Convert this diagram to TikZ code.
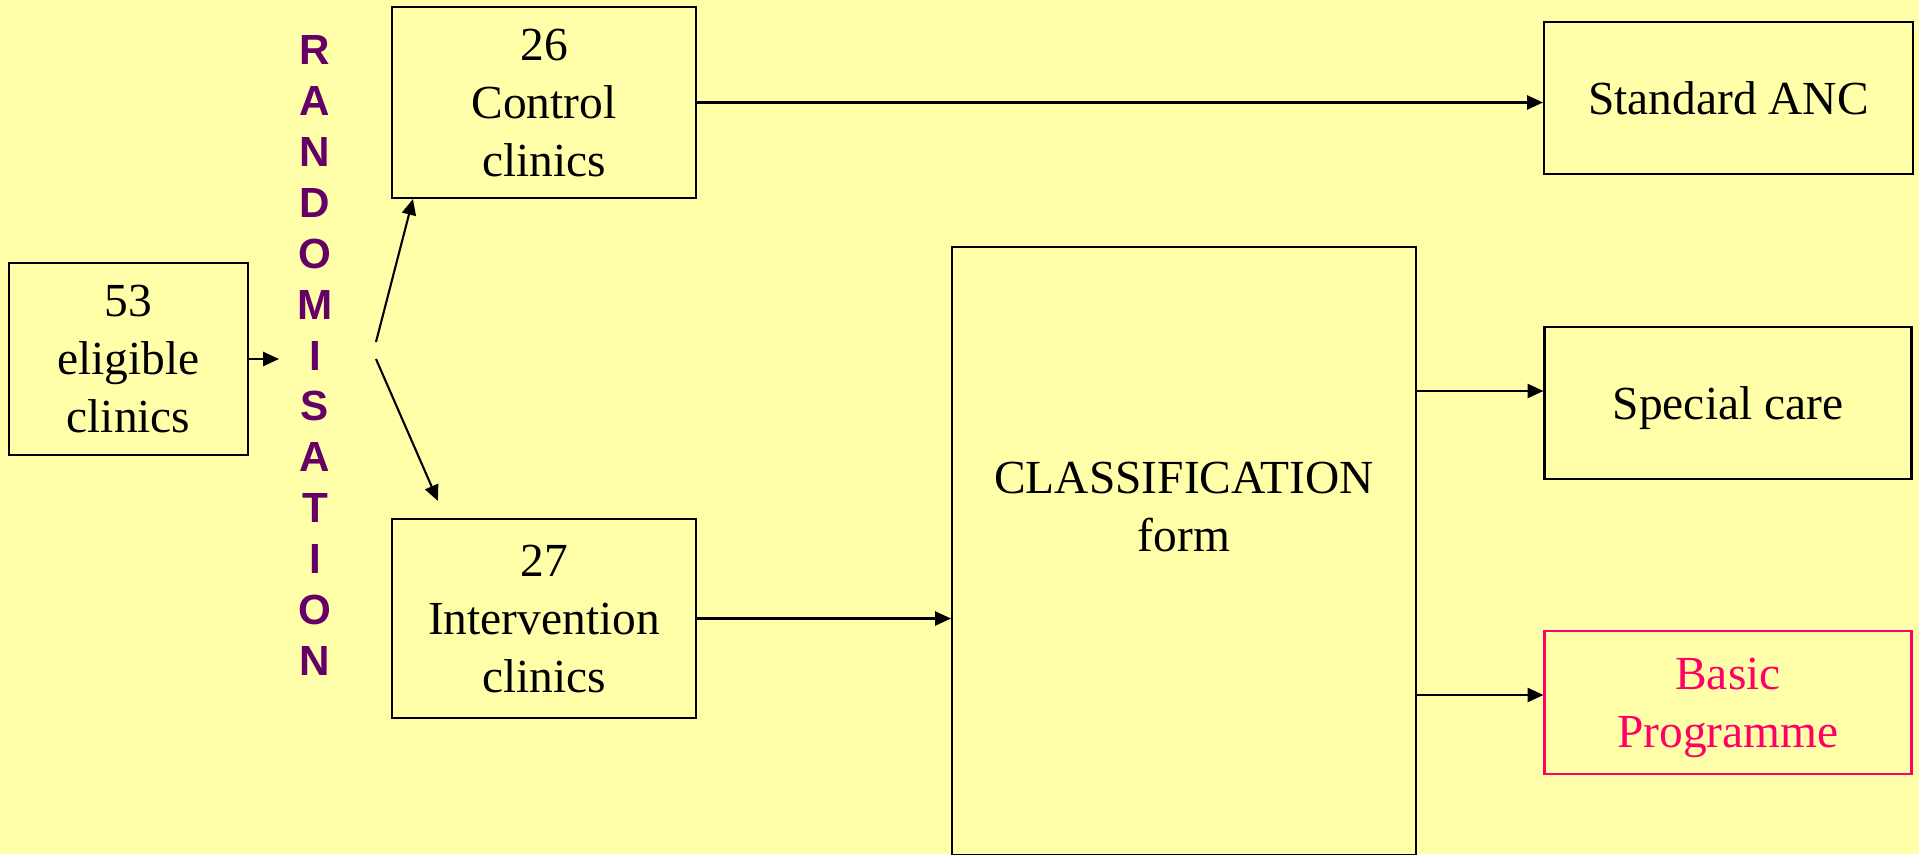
\documentclass[tikz,border=0pt]{standalone}
\usepackage{fontspec}
\setmainfont{Liberation Serif}
\newfontfamily\randfont{Liberation Sans}
\usetikzlibrary{arrows.meta}
\definecolor{slidebg}{HTML}{FFFFAA}
\definecolor{randpurple}{HTML}{660066}
\definecolor{basicpink}{HTML}{FF0066}

\begin{document}
\begin{tikzpicture}[
    box/.style={draw, line width=1.2pt, align=center, inner sep=0pt, font=\fontsize{27}{33}\selectfont},
    arr/.style={-{Triangle[length=9pt,width=8pt]}, black, line width=1.2pt}
  ]
    \fill[slidebg] (0,0) rectangle (38.38,-17.08);
    \useasboundingbox (0,0) rectangle (38.38,-17.08);

    \node[box, minimum width=4.78cm, minimum height=3.84cm, text depth=-4pt] (elig) at (2.57,-7.18) {53\\eligible\\clinics};
    \node[box, minimum width=6.08cm, minimum height=3.82cm, text depth=-6pt] (ctrl) at (10.88,-2.05) {26\\Control\\clinics};
    \node[box, minimum width=6.08cm, minimum height=3.98cm, text depth=-4pt] (intv) at (10.88,-12.37) {27\\Intervention\\clinics};
    \node[box, minimum width=9.28cm, minimum height=12.16cm] (cls) at (23.68,-11.02) {};
    \node[font=\fontsize{27}{33}\selectfont, align=center] (clstext) at ([yshift=0.88cm]cls.center) {CLASSIFICATION\\form};
    \node[box, minimum width=7.38cm, minimum height=3.04cm] (anc) at (34.57,-1.96) {Standard ANC};
    \node[box, minimum width=7.34cm, minimum height=3.04cm, text depth=-2pt] (spc) at (34.56,-8.06) {Special care};
    \node[box, draw=basicpink, text=basicpink, minimum width=7.34cm, minimum height=2.86cm, text depth=-2pt] (bas) at (34.56,-14.05) {Basic\\Programme};

    \node[text=randpurple, font=\randfont\bfseries\fontsize{24}{29}\selectfont, align=center, inner sep=0pt] (rand) at (6.30,-7.11) {R\\A\\N\\D\\O\\M\\I\\S\\A\\T\\I\\O\\N};
    \coordinate (rin) at (5.58,-7.18);
    \coordinate (fork1) at (7.52,-6.84);
    \coordinate (fork2) at (7.52,-7.18);

    \draw [arr] (elig.east) -- (rin);
    \draw [arr] (fork1) -- ([xshift=0.44cm]ctrl.south west);
    \draw [arr] (fork2) -- ([xshift=0.94cm,yshift=0.34cm]intv.north west);
    \draw [arr] (ctrl.east) -- (ctrl.east -| anc.west);
    \draw [arr] (intv.east) -- (intv.east -| cls.west);
    \path (spc.west) ++(0,0.24) coordinate (spcin);
    \draw [arr] (spcin -| cls.east) -- (spcin);
    \path (bas.west) ++(0,0.15) coordinate (basin);
    \draw [arr] (basin -| cls.east) -- (basin);
\end{tikzpicture}
\end{document}
